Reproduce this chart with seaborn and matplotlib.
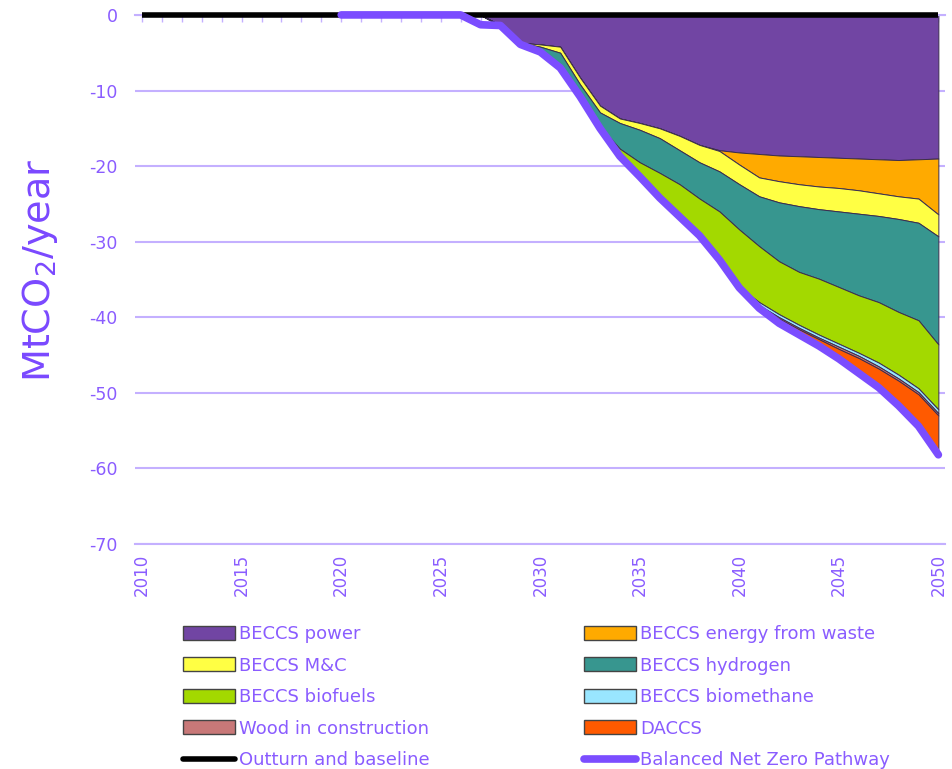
"""
Greenhouse gas removals pathway - stacked area chart.
"""

import matplotlib
matplotlib.use("Agg")
import matplotlib.pyplot as plt
from matplotlib.patches import Patch
from matplotlib.lines import Line2D
from matplotlib.ticker import MultipleLocator
import seaborn as sns

# --- Data (MtCO2/year) ---
years = [2026, 2027, 2028, 2029, 2030, 2031, 2032, 2033, 2034, 2035, 2036, 2037, 2038,
         2039, 2040, 2041, 2042, 2043, 2044, 2045, 2046, 2047, 2048, 2049, 2050]

beccs_power = [0, 0, -1.4, -3.7, -3.9, -4.2, -8.3, -12.0, -13.7, -14.3, -15.0, -16.0, -17.2,
               -17.9, -18.2, -18.4, -18.6, -18.7, -18.8, -18.9, -19.0, -19.1, -19.2, -19.1, -19.0]
beccs_efw = [0, 0, 0, 0, 0, 0, 0, 0, 0, 0, 0, 0, 0,
             -0.1, -1.6, -3.1, -3.4, -3.7, -3.9, -4.0, -4.2, -4.5, -4.8, -5.2, -7.4]
beccs_mc = [0, 0, 0, 0, -0.3, -0.8, -0.9, -0.9, -0.6, -0.9, -1.3, -1.9, -2.3,
            -2.7, -2.6, -2.5, -2.8, -2.9, -3.0, -3.1, -3.1, -3.0, -3.0, -3.2, -2.9]
beccs_hydrogen = [0, 0, 0, 0, -0.7, -2.0, -1.6, -1.9, -3.4, -4.3, -4.6, -4.5, -4.8,
                  -5.3, -6.0, -6.6, -7.8, -8.7, -9.2, -10.0, -10.8, -11.4, -12.3, -12.9, -14.3]
beccs_biofuels = [0, 0, 0, 0, 0, 0, 0, -0.2, -1.0, -1.9, -3.3, -4.3, -4.9,
                  -6.4, -7.6, -7.4, -7.0, -7.0, -7.4, -7.5, -7.6, -8.0, -8.3, -9.0, -8.6]
beccs_biomethane = [0, 0, 0, 0, 0, 0, 0, 0, 0, 0, 0, 0, 0,
                    0, -0.2, -0.4, -0.4, -0.4, -0.4, -0.4, -0.4, -0.5, -0.5, -0.5, -0.5]
wood_construction = [0, 0, 0, 0, 0, 0, 0, 0, 0, 0, 0, 0, 0,
                     0, -0.1, -0.2, -0.2, -0.2, -0.2, -0.3, -0.3, -0.3, -0.3, -0.3, -0.3]
daccs = [0, 0, 0, 0, 0, 0, 0, 0, 0, 0, 0, 0, 0,
         0, 0, -0.3, -0.6, -0.7, -0.8, -1.3, -2.0, -2.5, -3.3, -4.3, -5.2]

outturn_years = [2010, 2015, 2020, 2025, 2030, 2035, 2040, 2045, 2050]
outturn = [0, 0, 0, 0, 0, 0, 0, 0, 0]

pathway_years = [2020, 2021, 2022, 2023, 2024, 2025, 2026, 2027, 2028, 2029, 2030,
                 2031, 2032, 2033, 2034, 2035, 2036, 2037, 2038, 2039, 2040,
                 2041, 2042, 2043, 2044, 2045, 2046, 2047, 2048, 2049, 2050]
pathway = [0, 0, 0, 0, 0, 0, 0, -1.3, -1.4, -3.9, -4.9,
           -7.0, -10.8, -15.0, -18.7, -21.4, -24.2, -26.7, -29.2, -32.4, -36.1,
           -38.8, -40.8, -42.3, -43.8, -45.5, -47.4, -49.3, -51.7, -54.4, -58.2]

area_labels = ["BECCS power", "BECCS energy from waste", "BECCS M&C", "BECCS hydrogen",
               "BECCS biofuels", "BECCS biomethane", "Wood in construction", "DACCS"]
area_colors = ["#7145A3", "#FFAA00", "#FFFF44", "#37968F",
               "#A3D900", "#99E6FF", "#C87878", "#FF5A00"]

text_c = "#8A5CFF"
label_c = "#7A48FF"
grid_c = "#C4B0FF"
path_c = "#7B4DFF"

# --- Style ---
sns.set_theme(style="white")
plt.rcParams["font.family"] = ["DejaVu Sans"]
plt.rcParams["mathtext.default"] = "regular"
plt.rcParams["axes.unicode_minus"] = False

fig = plt.figure(figsize=(9.52, 7.69), dpi=100)
ax = fig.add_axes([0.142, 0.2926, 0.851, 0.688])

# stacked areas (negative values stack downwards)
ax.stackplot(years, beccs_power, beccs_efw, beccs_mc, beccs_hydrogen, beccs_biofuels,
             beccs_biomethane, wood_construction, daccs,
             colors=area_colors, edgecolor="#3b2d4f", linewidth=0.7, zorder=2)

sns.lineplot(x=outturn_years, y=outturn, color="black", lw=4, ax=ax,
             zorder=3, clip_on=False, solid_capstyle="butt")
sns.lineplot(x=pathway_years, y=pathway, color=path_c, lw=5.5, ax=ax,
             zorder=4, clip_on=False, solid_capstyle="round")

# axes
ax.set_xlim(2009.65, 2050.35)
ax.set_ylim(-70, 0)
ax.set_xticks(range(2010, 2051, 5))
ax.xaxis.set_minor_locator(MultipleLocator(1))
ax.set_yticks(range(-70, 1, 10))
ax.set_axisbelow(True)
ax.yaxis.grid(True, color=grid_c, lw=1.5)
ax.xaxis.grid(False)

for side in ["left", "right"]:
    ax.spines[side].set_visible(False)
for side in ["top", "bottom"]:
    ax.spines[side].set_color(grid_c)
    ax.spines[side].set_linewidth(1.5)

ax.tick_params(axis="x", which="both", top=True, bottom=False, labelbottom=True,
               direction="in", length=5, width=1, color=grid_c,
               labelcolor=text_c, labelsize=12, labelrotation=90, pad=7)
ax.tick_params(axis="y", left=False, length=0,
               labelcolor=text_c, labelsize=12.5, pad=12.5)

ax.set_xlabel("")
ax.set_ylabel("MtCO$_2$/year", fontsize=27.5, color=label_c)
ax.yaxis.set_label_coords(-0.093, 0.518)

# legend (row-wise order like the original)
patches = [Patch(facecolor=c, edgecolor="#444444", linewidth=1, label=l)
           for c, l in zip(area_colors, area_labels)]
line_out = Line2D([], [], color="black", lw=4, label="Outturn and baseline")
line_path = Line2D([], [], color=path_c, lw=5.5, label="Balanced Net Zero Pathway")
left_col = [patches[0], patches[2], patches[4], patches[6], line_out]
right_col = [patches[1], patches[3], patches[5], patches[7], line_path]
handles = left_col + right_col

fig.legend(handles=handles, labels=[h.get_label() for h in handles], ncol=2,
           loc="upper left", bbox_to_anchor=(183 / 952, 1 - 625 / 769),
           frameon=False, fontsize=13, labelcolor=text_c,
           handlelength=2.9, handleheight=0.8, handletextpad=0.2,
           labelspacing=0.75, columnspacing=8.55, borderpad=0, borderaxespad=0)

fig.savefig("out.png", dpi=100)
